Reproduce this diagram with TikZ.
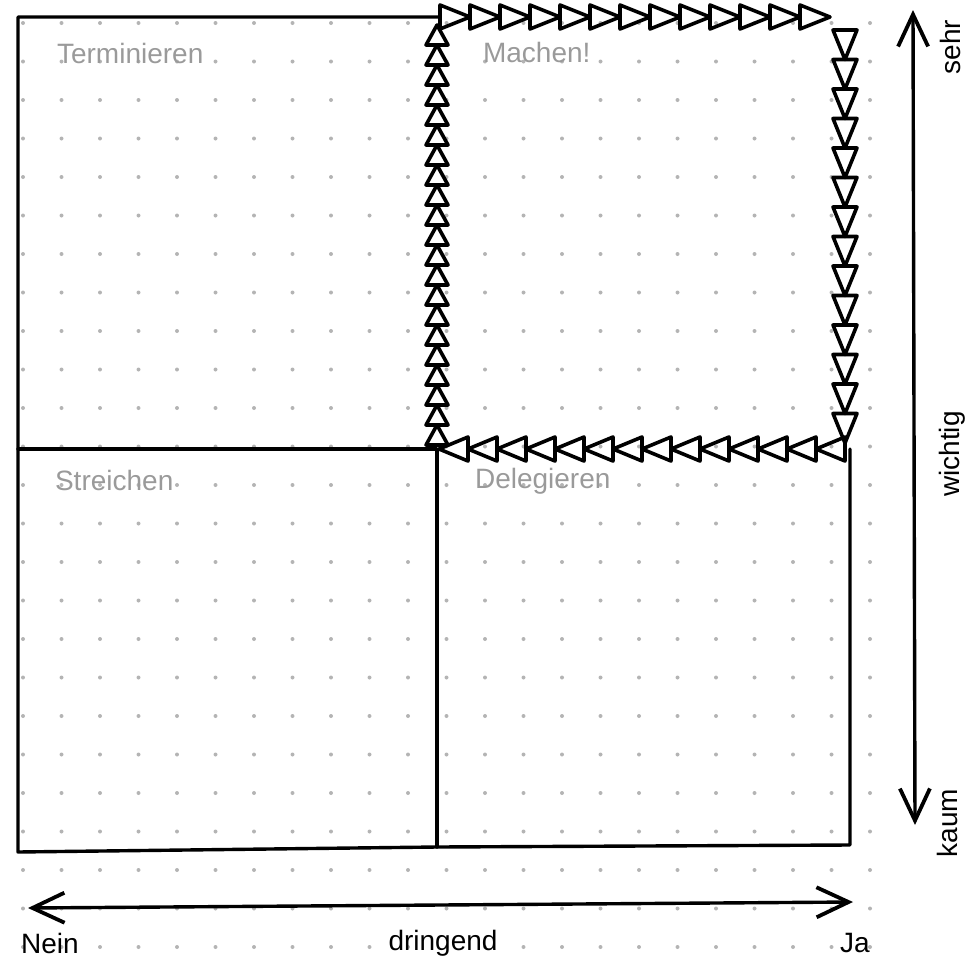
\documentclass[tikz,border=0pt]{standalone}
\usepackage{fontspec}
\setmainfont{Liberation Sans}
\usetikzlibrary{arrows.meta}
\definecolor{dotgray}{HTML}{B4B4B4}
\definecolor{textgray}{HTML}{9A9A9A}
\tikzset{
    quadrant/.style={text=textgray, anchor=west, font=\fontsize{14}{16}\selectfont},
    axislabel/.style={font=\fontsize{14}{16}\selectfont},
    edge/.style={line width=1.7pt, line cap=round, line join=round},
    tri/.style={line width=1.8pt, line join=round},
    axis/.style={line width=1.7pt, line cap=round,
        {Straight Barb[length=16pt,width=15pt,line width=1.9pt]}-{Straight Barb[length=16pt,width=15pt,line width=1.9pt]}}
}

\begin{document}
\begin{tikzpicture}[x=0.5pt, y=-0.5pt]
    \useasboundingbox (0,0) rectangle (976,970);

    % dot grid
    \foreach \i in {0,...,22}
        \foreach \j in {0,...,24}
            \fill[dotgray] ({23+38.5*\i},{23+38.5*\j}) circle (1pt);

    % corners of the matrix
    \coordinate (tl) at (18,17);
    \coordinate (tm) at (440,17);
    \coordinate (ml) at (18,449);
    \coordinate (mm) at (437,449);
    \coordinate (bl) at (18,852);
    \coordinate (bm) at (437,847);
    \coordinate (br) at (850,845);
    \coordinate (mr) at (850,449);

    \draw[edge] (tm) -- (tl) -- (bl) -- (bm) -- (br) -- (mr);
    \draw[edge] (ml) -- (mm) -- (bm);

    % chain of triangles round "Machen!"
    \foreach \i in {0,...,20}
        \draw[tri] ({426},{445-20*\i}) -- ({448},{445-20*\i}) -- (437,{425-20*\i}) -- cycle;
    \foreach \i in {0,...,12}
        \draw[tri] ({440+30*\i},5) -- ({440+30*\i},29) -- ({470+30*\i},17) -- cycle;
    \foreach \i in {0,...,13}
        \draw[tri] (833,{30+29.5*\i}) -- (857,{30+29.5*\i}) -- (845,{59.5+29.5*\i}) -- cycle;
    \foreach \i in {0,...,13}
        \draw[tri] ({845-29*\i},437) -- ({845-29*\i},461) -- ({816-29*\i},449) -- cycle;

    % quadrant names
    \node(term)[quadrant] at (50,53) {Terminieren};
    \node(mach)[quadrant] at (476,52) {Machen!};
    \node(strei)[quadrant] at (48,480) {Streichen};
    \node(dele)[quadrant] at (468,481) {Delegieren};

    % axes
    \node(nein)[axislabel] at (50,943) {Nein};
    \node(dring)[axislabel] at (443,943) {dringend};
    \node(ja)[axislabel] at (855,943) {Ja};
    \coordinate (xl) at (28,908);
    \coordinate (xr) at (853,902);
    \draw[axis] (xl) -- (xr);

    \node(sehr)[axislabel, rotate=90] at (950,47) {sehr};
    \node(wicht)[axislabel, rotate=90] at (952,454) {wichtig};
    \node(kaum)[axislabel, rotate=90] at (947,823) {kaum};
    \coordinate (yt) at (913,10);
    \coordinate (yb) at (915,825);
    \draw[axis] (yb) -- (yt);
\end{tikzpicture}
\end{document}
